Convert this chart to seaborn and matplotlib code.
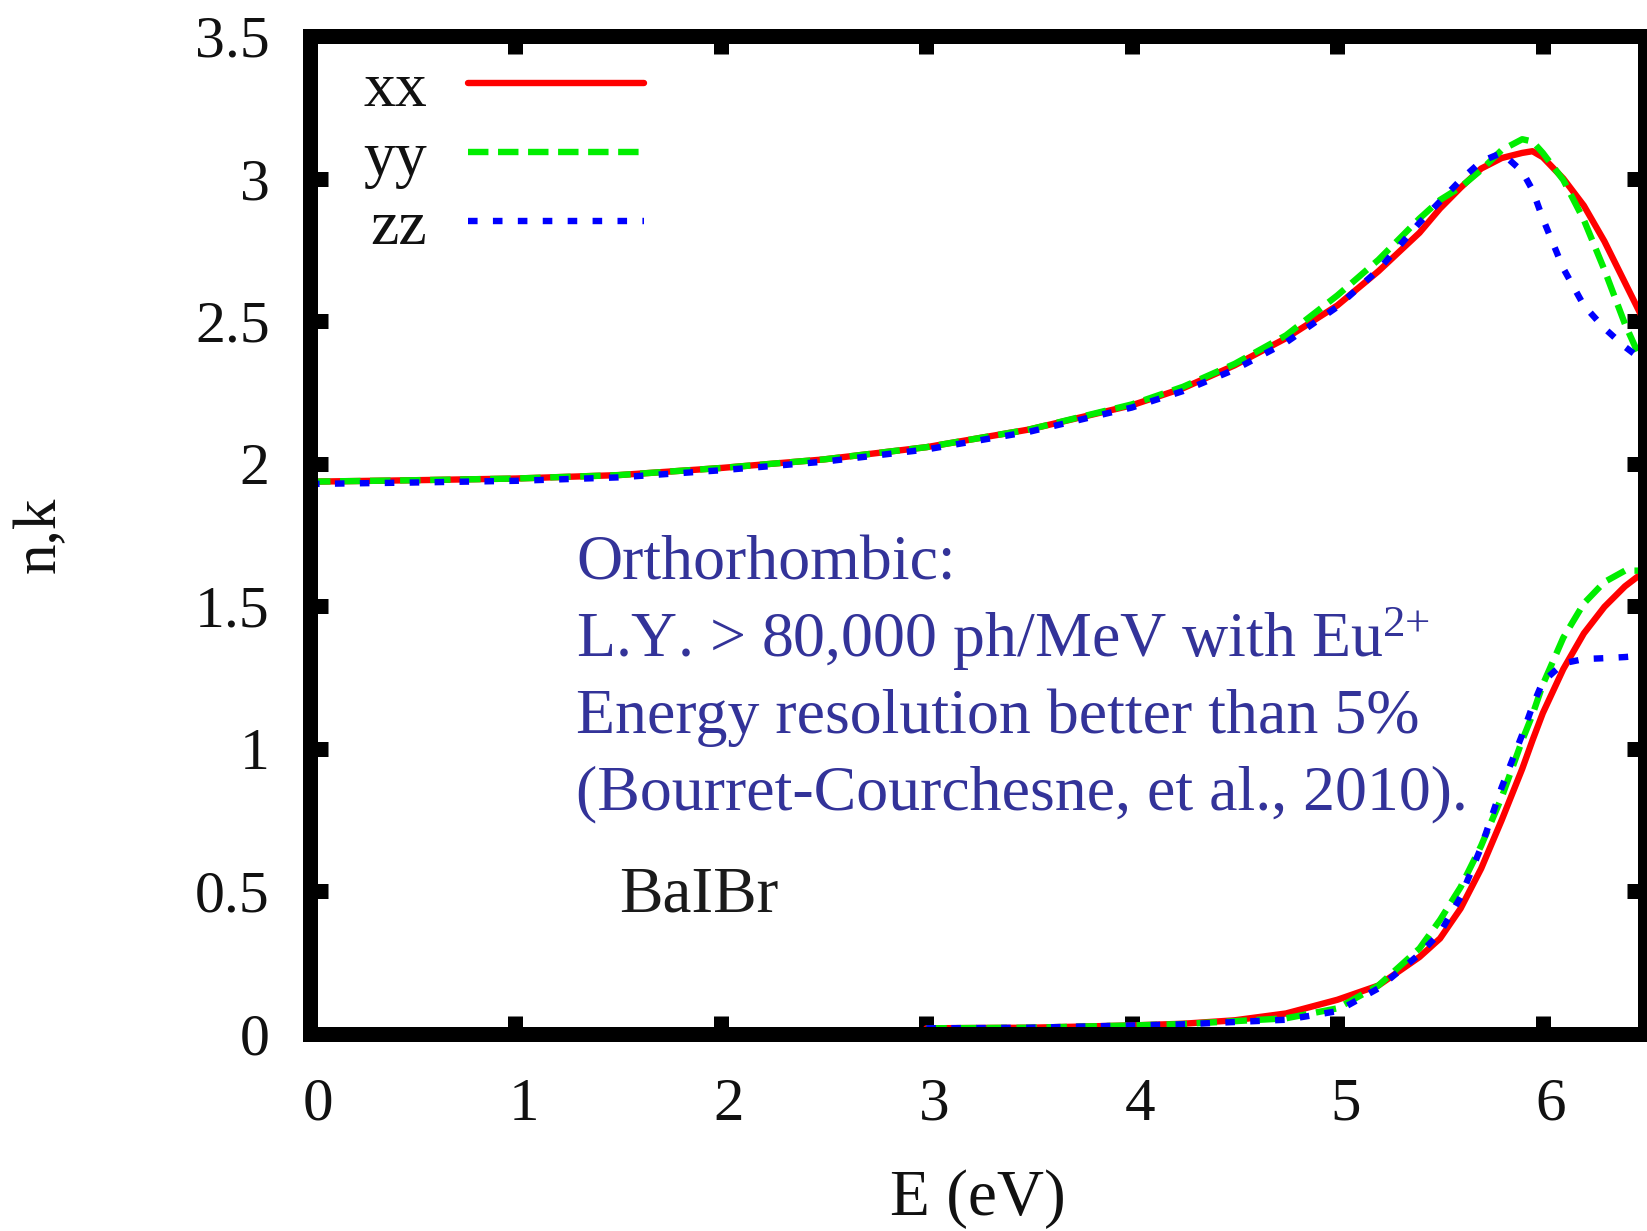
import numpy as np
import pandas as pd
import matplotlib
matplotlib.use("Agg")
import matplotlib.pyplot as plt
import matplotlib.transforms as mtransforms
import seaborn as sns

# Photon energy grid (eV)
energy = [0.0, 0.5, 1.0, 1.5, 2.0, 2.5, 3.0, 3.5, 4.0, 4.25, 4.5, 4.75, 5.0,
          5.2, 5.4, 5.5, 5.6, 5.7, 5.8, 5.9, 5.95, 6.0, 6.1, 6.2, 6.3, 6.4, 6.5]

# Refractive index n for the three polarisations
n_xx = [1.937, 1.942, 1.948, 1.960, 1.985, 2.015, 2.058, 2.120, 2.205, 2.265, 2.345, 2.440, 2.555,
        2.675, 2.810, 2.895, 2.968, 3.035, 3.072, 3.090, 3.096, 3.075, 3.000, 2.905, 2.780, 2.635, 2.490]
n_yy = [1.937, 1.942, 1.948, 1.960, 1.985, 2.015, 2.058, 2.120, 2.208, 2.270, 2.350, 2.450, 2.590,
        2.715, 2.860, 2.925, 2.970, 3.030, 3.100, 3.138, 3.130, 3.090, 2.995, 2.855, 2.680, 2.490, 2.330]
n_zz = [1.929, 1.934, 1.940, 1.952, 1.977, 2.007, 2.050, 2.112, 2.197, 2.255, 2.330, 2.425, 2.550,
        2.680, 2.845, 2.920, 2.995, 3.060, 3.090, 3.025, 2.960, 2.860, 2.685, 2.555, 2.475, 2.410, 2.355]

# Extinction coefficient k (only computed from 3 eV upwards)
nan = np.nan
k_xx = [nan, nan, nan, nan, nan, nan, 0.020, 0.022, 0.030, 0.036, 0.048, 0.072, 0.120,
        0.170, 0.270, 0.335, 0.440, 0.580, 0.750, 0.930, 1.030, 1.125, 1.280, 1.405, 1.498, 1.570, 1.625]
k_yy = [nan, nan, nan, nan, nan, nan, 0.020, 0.022, 0.030, 0.035, 0.045, 0.055, 0.090,
        0.170, 0.300, 0.400, 0.515, 0.660, 0.830, 1.030, 1.120, 1.225, 1.390, 1.510, 1.585, 1.625, 1.625]
k_zz = [nan, nan, nan, nan, nan, nan, 0.020, 0.022, 0.030, 0.034, 0.042, 0.050, 0.080,
        0.160, 0.280, 0.355, 0.480, 0.655, 0.865, 1.050, 1.150, 1.235, 1.300, 1.315, 1.318, 1.322, 1.328]

labels = ["xx", "yy", "zz"]
colors = ["#ff0000", "#00ee00", "#0000ff"]
styles = ["-", (0, (3.2, 1.5)), (0, (1.5, 2.4))]

note_lines = ["Orthorhombic:",
              "L.Y. > 80,000 ph/MeV with Eu$^{\\mathrm{2{+}}}$",
              "Energy resolution better than 5%",
              "(Bourret-Courchesne, et al., 2010)."]

sns.set_theme(style="white")
plt.rcParams["font.family"] = ["Liberation Serif", "DejaVu Serif"]
plt.rcParams["mathtext.fontset"] = "custom"
plt.rcParams["mathtext.rm"] = "Liberation Serif"
plt.rcParams["mathtext.it"] = "Liberation Serif:italic"

W, H = 1647, 1231
fig = plt.figure(figsize=(W / 100, H / 100), dpi=100)
ax = fig.add_axes([310 / W, 1 - 1034 / H, 1335.5 / W, 998 / H])

df = pd.DataFrame({"E": energy,
                   "n_xx": n_xx, "n_yy": n_yy, "n_zz": n_zz,
                   "k_xx": k_xx, "k_yy": k_yy, "k_zz": k_zz})

lw = 4.6
handles = []
for lab, col, ls in zip(labels, colors, styles):
    sns.lineplot(data=df, x="E", y="n_" + lab, ax=ax, color=col,
                 linestyle=ls, linewidth=lw, estimator=None, sort=False)
    handles.append(ax.lines[-1])
    sns.lineplot(data=df.dropna(subset=["k_" + lab]), x="E", y="k_" + lab, ax=ax,
                 color=col, linestyle=ls, linewidth=lw, estimator=None, sort=False)

for h, lab in zip(handles, labels):
    h.set_label(lab)

ax.set_xlim(0, 6.5)
ax.set_ylim(0, 3.5)
ax.set_xticks(range(0, 7))
ax.set_yticks(np.arange(0, 3.51, 0.5))
ax.set_yticklabels(["0", "0.5", "1", "1.5", "2", "2.5", "3", "3.5"])

for sp in ax.spines.values():
    sp.set_visible(True)
    sp.set_color("black")
    sp.set_linewidth(10.8)

ax.tick_params(axis="both", direction="in", length=13, width=10.8, color="black",
               top=True, right=True, bottom=True, left=True)
ax.tick_params(axis="x", labelsize=44, pad=31, labelcolor="#111111")
ax.tick_params(axis="y", labelsize=43, pad=29, labelcolor="#111111")

# x tick labels sit slightly right of their ticks
shift = mtransforms.ScaledTranslation(0.08, 0, fig.dpi_scale_trans)
for lbl in ax.get_xticklabels():
    lbl.set_transform(lbl.get_transform() + shift)

ax.set_xlabel("E (eV)", fontsize=47, color="#111111")
ax.xaxis.set_label_coords(0.5, -0.136)
ax.set_ylabel("n,k", fontsize=44, color="#111111")
ax.yaxis.set_label_coords(-0.181, 0.5)

leg = ax.legend(handles=handles, labels=labels, loc="upper left",
                bbox_to_anchor=(0.0397, 0.975), frameon=False, fontsize=46,
                markerfirst=False, handlelength=2.75, handletextpad=0.65,
                labelspacing=0.16, borderpad=0, borderaxespad=0)
for t in leg.get_texts():
    t.set_color("#111111")

baselines = [1.593, 1.323, 1.056, 0.786]
for line, yb in zip(note_lines, baselines):
    ax.text(1.296, yb, line, fontsize=46, color="#333399", ha="left", va="baseline")

ax.text(1.505, 0.428, "BaIBr", fontsize=47, color="#1a1a1a", ha="left", va="baseline")

fig.savefig("out.png", dpi=100)
